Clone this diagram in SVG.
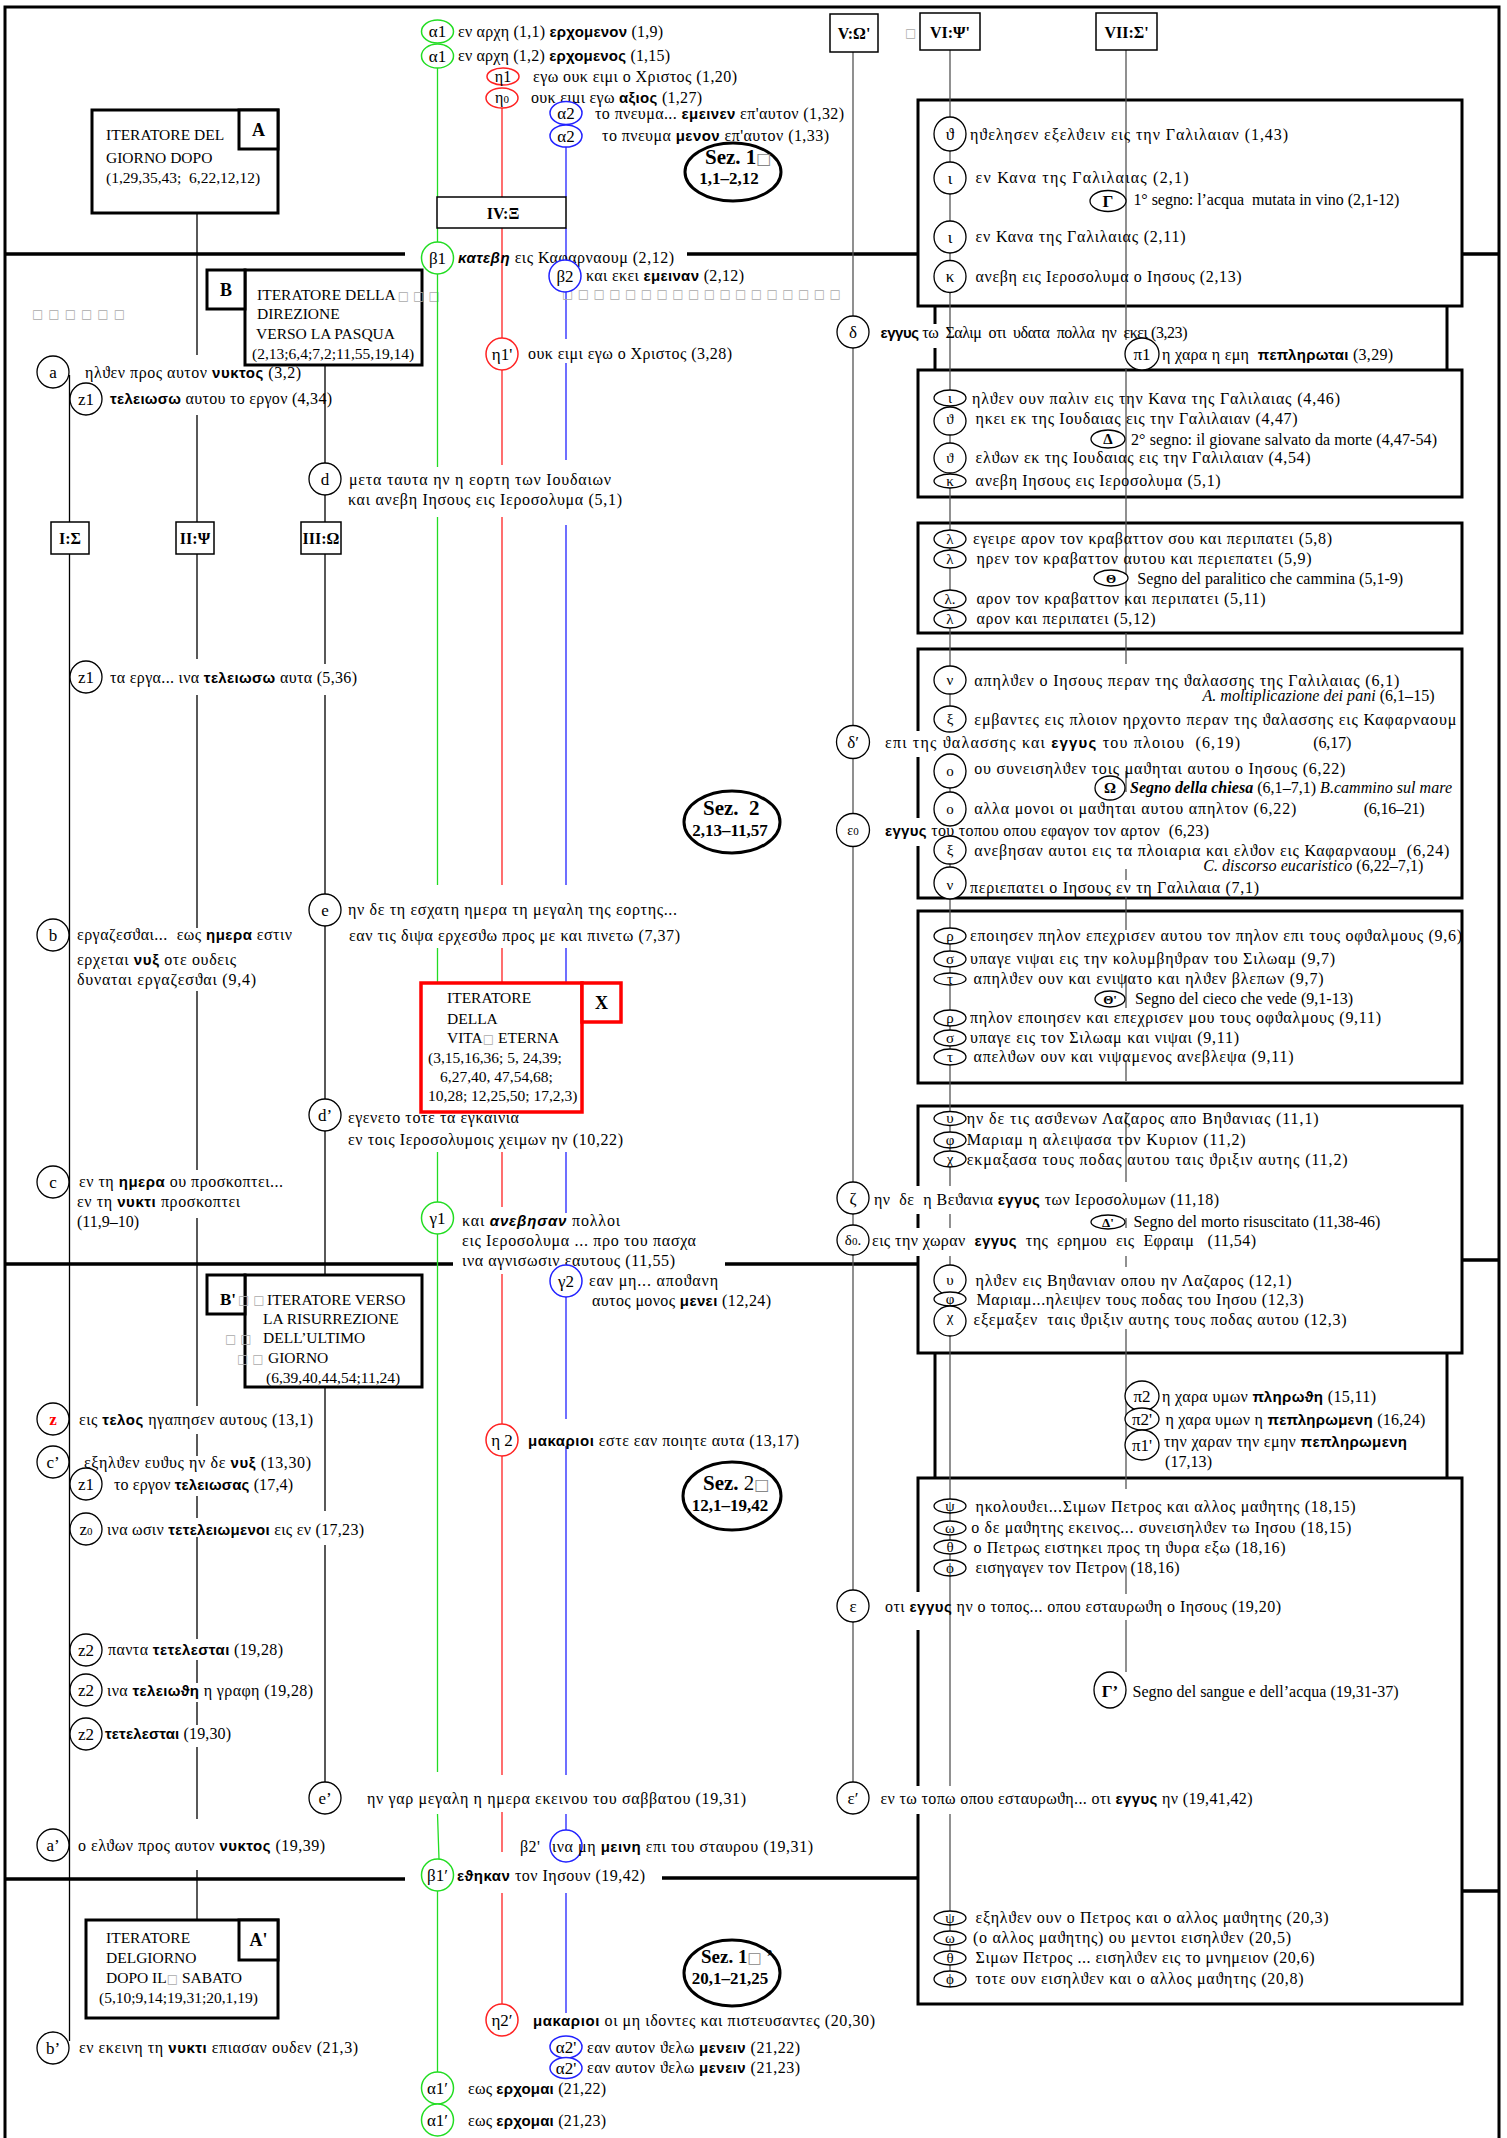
<svg xmlns="http://www.w3.org/2000/svg" width="1507" height="2138" viewBox="0 0 1507 2138">
<style>
text{font-family:"Liberation Serif","Times New Roman",serif;font-size:16px;fill:#000}
.g{letter-spacing:0.4px}
.r{font-size:16px}
.b{font-family:"Liberation Sans",Arial,sans-serif;font-weight:bold;font-size:15px}
.bi{font-family:"Liberation Sans",Arial,sans-serif;font-weight:bold;font-style:italic;font-size:15px}
.i{font-style:italic}
.ib{font-style:italic;font-weight:bold}
.lab{font-size:17px;text-anchor:middle}
.ls{font-size:15px;text-anchor:middle}
.sub{font-size:11px}
.hdr{font-weight:bold;font-size:16px;text-anchor:middle}
.it{font-size:16px}
.bx{font-size:15.5px}
.tf{fill:#aaa;font-family:"DejaVu Sans",sans-serif;font-size:12px}
.sz{font-weight:bold;font-size:21px}
.szn{font-weight:bold;font-size:17px;text-anchor:middle}
.frame{fill:none;stroke:#000;stroke-width:3}
.sec{stroke:#000;stroke-width:3.5;fill:none}
.box{fill:#fff;stroke:#000;stroke-width:3}
.tbox{fill:#fff;stroke:#000;stroke-width:1.5}
.xbox{fill:#fff;stroke:#f00;stroke-width:3.5}
.ln{stroke:#000;stroke-width:1.3;fill:none}
.vl{stroke:#555;stroke-width:1.3;fill:none}
.gl{stroke:#2d2;stroke-width:1.3;fill:none}
.rl{stroke:#f22;stroke-width:1.3;fill:none}
.bl{stroke:#22f;stroke-width:1.3;fill:none}
.cn{stroke:#000;stroke-width:3;fill:none}
.c{fill:#fff;stroke:#000;stroke-width:1.3}
.cg{fill:#fff;stroke:#2d2;stroke-width:1.5}
.cr{fill:#fff;stroke:#f22;stroke-width:1.5}
.cb{fill:#fff;stroke:#22f;stroke-width:1.5}
.sez{fill:#fff;stroke:#000;stroke-width:3}
.wb{fill:#fff}
</style>
<rect width="1507" height="2138" fill="#fff"/>
<g id="frame">
<path class="frame" d="M5 2138V7H1499V2138"/>
<path class="sec" d="M5 254H405M687 254H918M1462 254H1499M5 1264H453M725 1264H918M1462 1260H1499M5 1879H405M662 1878H918M1462 1891H1499"/>
</g>
<g id="right-frames">
<rect class="box" x="918" y="100" width="544" height="206"/>
<path class="cn" d="M935 306V370M1447 306V370M935 1353V1478M1447 1353V1478"/>
<rect class="box" x="918" y="370" width="544" height="127"/>
<rect class="box" x="918" y="523" width="544" height="110"/>
<rect class="box" x="918" y="649" width="544" height="249"/>
<rect class="box" x="918" y="911" width="544" height="172"/>
<rect class="box" x="918" y="1106" width="544" height="247"/>
<rect class="box" x="918" y="1478" width="544" height="526"/>
</g>
<g id="left-boxes">
<g id="box-A"><rect class="box" x="92" y="110" width="186" height="103"/><rect class="box" x="239" y="110" width="39" height="39"/><text class="hdr" x="258.5" y="136" style="font-size:18px">A</text><text class="bx" x="106" y="140">ITERATORE DEL</text><text class="bx" x="106" y="163">GIORNO DOPO</text><text class="bx" x="106" y="183" xml:space="preserve">(1,29,35,43;  6,22,12,12)</text></g>
<g id="box-B"><rect class="box" x="245" y="270" width="177" height="95"/><rect class="box" x="207" y="270" width="38" height="39"/><text class="hdr" x="226" y="296" style="font-size:18px">B</text><text class="bx" x="257" y="300">ITERATORE DELLA<tspan class="tf" dx="2" style="letter-spacing:4px">□□□</tspan></text><text class="bx" x="257" y="319">DIREZIONE</text><text class="bx" x="256" y="339">VERSO LA PASQUA</text><text class="bx" x="252" y="359">(2,13;6,4;7,2;11,55,19,14)</text></g>
<g id="box-Bp"><rect class="box" x="245" y="1275" width="177" height="112"/><rect class="box" x="207" y="1275" width="38" height="39"/><text class="hdr" x="220" y="1305" style="font-size:17px;text-anchor:start">B'</text><text class="tf" x="238" y="1304" style="letter-spacing:4px">□□</text><text class="bx" x="267" y="1305">ITERATORE VERSO</text><text class="bx" x="263" y="1324">LA RISURREZIONE</text><text class="tf" x="225" y="1343" style="letter-spacing:4px">□□</text><text class="bx" x="263" y="1343">DELL’ULTIMO</text><text class="tf" x="237" y="1363" style="letter-spacing:4px">□□</text><text class="bx" x="268" y="1363">GIORNO</text><text class="bx" x="266" y="1383">(6,39,40,44,54;11,24)</text></g>
<g id="box-Ap"><rect class="box" x="86" y="1920" width="192" height="98"/><rect class="box" x="239" y="1920" width="39" height="40"/><text class="hdr" x="258.5" y="1946" style="font-size:18px">A'</text><text class="bx" x="106" y="1943">ITERATORE</text><text class="bx" x="106" y="1963">DELGIORNO</text><text class="bx" x="106" y="1983">DOPO IL<tspan class="tf">□</tspan> SABATO</text><text class="bx" x="99" y="2003">(5,10;9,14;19,31;20,1,19)</text></g>
</g>
<g id="connectors">
<path class="ln" d="M69.5 375V522M69.5 554V2041"/>
<path class="ln" d="M197 213V355M197 415V522M197 554V659M197 695V928M197 991V1170M197 1218V1406M197 1434V1456M197 1496V1518M197 1537V1639M197 1660V1683M197 1702V1725M197 1747V1819M197 1870V1920"/>
<path class="ln" d="M325 365V463M325 495V522M325 554V664M325 695V894M325 926V1099M325 1131V1275M325 1387V1511M325 1545V1782"/>
<path class="gl" d="M437.5 68V197M437.5 228V242M437.5 274V467M437.5 517V885M437.5 948V983M437.5 1152V1202M437.5 1234V1772M437.5 1814L439 1859M437.5 1891V2072"/>
<path class="rl" d="M502 107V197M502 228V338M502 370V465M502 517V885M502 948V983M502 1152V1207M502 1274V1424M502 1456V1775M502 1812V1852M502 1893V2004"/>
<path class="bl" d="M566 147V197M566 228V260M566 292V339M566 363V460M566 525V885M566 948V983M566 1152V1213M566 1297V1419M566 1446V1775M566 1814V1830M566 1893V2013"/>
<path class="vl" d="M853 52V316M853 348V725M853 759V813M853 847V1182M853 1214V1225M853 1255V1590M853 1622V1782"/>
<path class="vl" d="M950 50V1971"/>
<path class="vl" d="M1126 50V340M1126 368V606M1126 633V664M1126 771V792M1126 869V880M1126 897V930M1126 975V1008M1126 1060V1081M1126 1112V1182M1126 1218V1267M1126 1329V1489M1126 1566V1594M1126 1620V1672"/>
</g>
<g id="text-backgrounds">
<rect class="wb" x="872" y="324" width="70" height="24"/>
<rect class="wb" x="872" y="731" width="372" height="26"/>
<rect class="wb" x="872" y="818" width="340" height="28"/>
<rect class="wb" x="872" y="1186" width="350" height="28"/>
<rect class="wb" x="872" y="1228" width="386" height="28"/>
<rect class="wb" x="872" y="1592" width="68" height="38"/>
<rect class="wb" x="872" y="1786" width="384" height="28"/>
</g>
<g id="box-X"><rect class="xbox" x="421" y="983" width="161" height="129"/><rect class="xbox" x="582" y="983" width="39" height="39"/><text class="hdr" x="601.5" y="1009" style="font-size:18px">X</text><text class="bx" x="447" y="1003">ITERATORE</text><text class="bx" x="447" y="1024">DELLA</text><text class="bx" x="447" y="1043">VITA<tspan class="tf">□</tspan> ETERNA</text><text class="bx" x="428" y="1063">(3,15,16,36; 5, 24,39;</text><text class="bx" x="440" y="1082">6,27,40, 47,54,68;</text><text class="bx" x="428" y="1101">10,28; 12,25,50; 17,2,3)</text></g>
<g id="box-IV"><rect class="tbox" x="437" y="197" width="129" height="31"/><text class="hdr" x="503" y="219">IV:Ξ</text></g>
<g id="headers">
<g id="h-I"><rect class="tbox" x="51" y="522" width="38" height="32"/><text class="hdr" x="70" y="544">I:Σ</text></g>
<g id="h-II"><rect class="tbox" x="176" y="522" width="38" height="32"/><text class="hdr" x="195" y="544">II:Ψ</text></g>
<g id="h-III"><rect class="tbox" x="301" y="522" width="40" height="32"/><text class="hdr" x="321" y="544">III:Ω</text></g>
<g id="h-V"><rect class="tbox" x="830" y="14" width="48" height="38"/><text class="hdr" x="854" y="39">V:Ω'</text></g>
<g id="h-VI"><rect class="tbox" x="920" y="13" width="60" height="37"/><text class="hdr" x="950" y="38">VI:Ψ'</text><text class="tf" x="905" y="37">□</text></g>
<g id="h-VII"><rect class="tbox" x="1096" y="13" width="61" height="37"/><text class="hdr" x="1126.5" y="38">VII:Σ'</text></g>
</g>
<g id="tofu">
<text class="tf" x="32" y="318" style="letter-spacing:5px">□□□□□□</text>
<text class="tf" x="562" y="298" style="letter-spacing:4.4px">□□□□□□□□□□□□□□□□□□</text>
</g>
<g id="sections">
<g id="sez1"><ellipse class="sez" cx="733" cy="172" rx="48" ry="29"/><text class="sz" x="705" y="164">Sez. 1<tspan class="tf" style="fill:#888;font-size:16px">□</tspan></text><text class="szn" x="729" y="184">1,1–2,12</text></g>
<g id="sez2"><ellipse class="sez" cx="732" cy="822" rx="48" ry="31"/><text class="sz" x="703" y="815" xml:space="preserve">Sez.  2</text><text class="szn" x="730" y="836">2,13–11,57</text></g>
<g id="sez2b"><ellipse class="sez" cx="732" cy="1496" rx="49" ry="34"/><text class="sz" x="703" y="1490">Sez. <tspan style="font-weight:normal">2</tspan><tspan class="tf" style="fill:#888;font-size:16px">□</tspan></text><text class="szn" x="730" y="1511">12,1–19,42</text></g>
<g id="sez1b"><ellipse class="sez" cx="732" cy="1973" rx="48" ry="33"/><text class="sz" x="701" y="1963" style="font-size:19px">Sez. 1<tspan class="tf" style="fill:#888;font-size:15px">□</tspan> ’</text><text class="szn" x="730" y="1984">20,1–21,25</text></g>
</g>
<g id="nodes-top">
<g id="n-a1-1"><ellipse class="cg" cx="437.5" cy="31.5" rx="16" ry="11.5"/><text class="lab" x="437.5" y="37">α1</text><text x="458" y="37" textLength="205">εν αρχη (1,1) <tspan class="b">ερχομενον</tspan> (1,9)</text></g>
<g id="n-a1-2"><ellipse class="cg" cx="437.5" cy="56" rx="16" ry="12"/><text class="lab" x="437.5" y="61.5">α1</text><text x="458" y="61" textLength="212">εν αρχη (1,2) <tspan class="b">ερχομενος</tspan> (1,15)</text></g>
<g id="n-h1"><ellipse class="cr" cx="503" cy="76.5" rx="16" ry="8.5"/><text class="lab" x="503" y="82" style="font-size:16px">η1</text><text x="533" y="82" textLength="204">εγω ουκ ειμι ο Χριστος (1,20)</text></g>
<g id="n-h0"><ellipse class="cr" cx="502" cy="98" rx="16" ry="10"/><text class="lab" x="502" y="103" style="font-size:16px">η<tspan class="sub">0</tspan></text><text x="531" y="103" textLength="171">ουκ ειμι εγω <tspan class="b">αξιος</tspan> (1,27)</text></g>
<g id="n-a2-1"><ellipse class="cb" cx="566" cy="113" rx="16" ry="11.5"/><text class="lab" x="566" y="118.5">α2</text><text x="595" y="119" textLength="249">το πνευμα... <tspan class="b">εμεινεν</tspan> επ'αυτον (1,32)</text></g>
<g id="n-a2-2"><ellipse class="cb" cx="566" cy="136" rx="16" ry="11"/><text class="lab" x="566" y="141.5">α2</text><text x="602" y="141" textLength="227">το πνευμα <tspan class="b">μενον</tspan> επ'αυτον (1,33)</text></g>
<g id="n-b1"><circle class="cg" cx="437.5" cy="258" r="16"/><text class="lab" x="437.5" y="264">β1</text><text x="458" y="263" textLength="216"><tspan class="bi">κατεβη</tspan> εις Καφαρναουμ (2,12)</text></g>
<g id="n-b2"><circle class="cb" cx="565" cy="276" r="16"/><text class="lab" x="565" y="282">β2</text><text x="586" y="281" textLength="158">και εκει <tspan class="b">εμειναν</tspan> (2,12)</text></g>
<g id="n-h1p"><circle class="cr" cx="502" cy="354" r="16"/><text class="lab" x="502" y="360">η1'</text><text x="528" y="359" textLength="204">ουκ ειμι εγω ο Χριστος (3,28)</text></g>
</g>
<g id="nodes-left">
<g id="n-a"><circle class="c" cx="53" cy="372" r="16"/><text class="lab" x="53" y="378">a</text><text x="85" y="378" textLength="216">ηλϑεν προς αυτον <tspan class="b">νυκτος</tspan> (3,2)</text></g>
<g id="n-z1a"><circle class="c" cx="86" cy="399" r="16"/><text class="lab" x="86" y="405">z1</text><text x="110" y="404" textLength="222"><tspan class="b">τελειωσω</tspan> αυτου το εργον (4,34)</text></g>
<g id="n-d"><circle class="c" cx="325" cy="479" r="16"/><text class="lab" x="325" y="485">d</text><text x="349" y="485" textLength="262">μετα ταυτα ην η εορτη των Ιουδαιων</text><text x="348" y="505" textLength="274">και ανεβη Ιησους εις Ιεροσολυμα (5,1)</text></g>
<g id="n-z1b"><circle class="c" cx="86" cy="677" r="16"/><text class="lab" x="86" y="683">z1</text><text x="110" y="683" textLength="247">τα εργα... ινα <tspan class="b">τελειωσω</tspan> αυτα (5,36)</text></g>
<g id="n-e"><circle class="c" cx="325" cy="910" r="16"/><text class="lab" x="325" y="916">e</text><text x="348" y="915" textLength="329">ην δε τη εσχατη ημερα τη μεγαλη της εορτης...</text><text x="349" y="941" textLength="331">εαν τις διψα ερχεσϑω προς με και πινετω (7,37)</text></g>
<g id="n-b"><circle class="c" cx="53" cy="935" r="16"/><text class="lab" x="53" y="941">b</text><text x="77" y="940" xml:space="preserve" textLength="215">εργαζεσϑαι...  εως <tspan class="b">ημερα</tspan> εστιν</text><text x="77" y="965" textLength="159">ερχεται <tspan class="b">νυξ</tspan> οτε ουδεις</text><text x="77" y="985" textLength="179">δυναται εργαζεσϑαι (9,4)</text></g>
<g id="n-dp"><circle class="c" cx="325" cy="1115" r="16"/><text class="lab" x="325" y="1121">d’</text><text x="348" y="1123" textLength="171">εγενετο τοτε τα εγκαινια</text><text x="348" y="1145" textLength="275">εν τοις Ιεροσολυμοις χειμων ην (10,22)</text></g>
<g id="n-c"><circle class="c" cx="53" cy="1182" r="16"/><text class="lab" x="53" y="1188">c</text><text x="79" y="1187" textLength="204">εν τη <tspan class="b">ημερα</tspan> ου προσκοπτει...</text><text x="77" y="1207" textLength="163">εν τη <tspan class="b">νυκτι</tspan> προσκοπτει</text><text x="77" y="1227" textLength="62">(11,9–10)</text></g>
<g id="n-g1"><circle class="cg" cx="437.5" cy="1218" r="16"/><text class="lab" x="437.5" y="1224">γ1</text><text x="462" y="1226" textLength="158">και <tspan class="bi">ανεβησαν</tspan> πολλοι</text><text x="462" y="1246" textLength="234">εις Ιεροσολυμα ... προ του πασχα</text><text x="462" y="1266" textLength="213">ινα αγνισωσιν εαυτους (11,55)</text></g>
<g id="n-g2"><circle class="cb" cx="566" cy="1281" r="16"/><text class="lab" x="566" y="1287">γ2</text><text x="589" y="1286" textLength="129">εαν μη... αποϑανη</text><text x="592" y="1306" textLength="179">αυτος μονος <tspan class="b">μενει</tspan> (12,24)</text></g>
<g id="n-z"><circle class="c" cx="53" cy="1419" r="16"/><text class="lab" x="53" y="1425" style="fill:#f00;font-weight:bold">z</text><text x="79" y="1425" textLength="234">εις <tspan class="b">τελος</tspan> ηγαπησεν αυτους (13,1)</text></g>
<g id="n-h2"><circle class="cr" cx="502" cy="1440" r="16"/><text class="lab" x="502" y="1446" xml:space="preserve">η 2</text><text x="528" y="1446" textLength="271"><tspan class="b">μακαριοι</tspan> εστε εαν ποιητε αυτα (13,17)</text></g>
<g id="n-cp"><circle class="c" cx="53" cy="1462" r="16"/><text class="lab" x="53" y="1468">c’</text><text x="84" y="1468" textLength="227">εξηλϑεν ευϑυς ην δε <tspan class="b">νυξ</tspan> (13,30)</text></g>
<g id="n-z1c"><circle class="c" cx="86" cy="1484" r="16"/><text class="lab" x="86" y="1490">z1</text><text x="114" y="1490" textLength="179">το εργον <tspan class="b">τελειωσας</tspan> (17,4)</text></g>
<g id="n-z0"><circle class="c" cx="86" cy="1529" r="16"/><text class="lab" x="86" y="1535">z<tspan class="sub">0</tspan></text><text x="107" y="1535" textLength="257">ινα ωσιν <tspan class="b">τετελειωμενοι</tspan> εις εν (17,23)</text></g>
<g id="n-z2a"><circle class="c" cx="86" cy="1650" r="16"/><text class="lab" x="86" y="1656">z2</text><text x="108" y="1655" textLength="175">παντα <tspan class="b">τετελεσται</tspan> (19,28)</text></g>
<g id="n-z2b"><circle class="c" cx="86" cy="1690" r="16"/><text class="lab" x="86" y="1696">z2</text><text x="107" y="1696" textLength="206">ινα <tspan class="b">τελειωϑη</tspan> η γραφη (19,28)</text></g>
<g id="n-z2c"><circle class="c" cx="86" cy="1734" r="16"/><text class="lab" x="86" y="1740">z2</text><text x="105" y="1739" textLength="126"><tspan class="b">τετελεσται</tspan> (19,30)</text></g>
<g id="n-ep"><circle class="c" cx="325" cy="1798" r="16"/><text class="lab" x="325" y="1804">e’</text><text x="367" y="1804" textLength="379">ην γαρ μεγαλη η ημερα εκεινου του σαββατου (19,31)</text></g>
<g id="n-ap"><circle class="c" cx="53" cy="1845" r="16"/><text class="lab" x="53" y="1851">a’</text><text x="78" y="1851" textLength="247">ο ελϑων προς αυτον <tspan class="b">νυκτος</tspan> (19,39)</text></g>
<g id="n-b2p"><circle class="cb" cx="566" cy="1846" r="16"/><text class="g" x="520" y="1852">β2'</text><text x="552" y="1852" textLength="261">ινα μη <tspan class="b">μεινη</tspan> επι του σταυρου (19,31)</text></g>
<g id="n-b1p"><circle class="cg" cx="437.5" cy="1875" r="16"/><text class="lab" x="437.5" y="1881">β1′</text><text x="457" y="1881" textLength="188"><tspan class="b">εϑηκαν</tspan> τον Ιησουν (19,42)</text></g>
<g id="n-h2p"><circle class="cr" cx="502" cy="2020" r="16"/><text class="lab" x="502" y="2026">η2′</text><text x="533" y="2026" textLength="342"><tspan class="b">μακαριοι</tspan> οι μη ιδοντες και πιστευσαντες (20,30)</text></g>
<g id="n-bp"><circle class="c" cx="53" cy="2048" r="16"/><text class="lab" x="53" y="2054">b’</text><text x="79" y="2053" textLength="279">εν εκεινη τη <tspan class="b">νυκτι</tspan> επιασαν ουδεν (21,3)</text></g>
<g id="n-a2p-1"><ellipse class="cb" cx="566" cy="2047" rx="16" ry="11"/><text class="lab" x="566" y="2053">α2'</text><text x="587" y="2053" textLength="213">εαν αυτον ϑελω <tspan class="b">μενειν</tspan> (21,22)</text></g>
<g id="n-a2p-2"><ellipse class="cb" cx="566" cy="2068" rx="16" ry="10.5"/><text class="lab" x="566" y="2074">α2'</text><text x="587" y="2073" textLength="213">εαν αυτον ϑελω <tspan class="b">μενειν</tspan> (21,23)</text></g>
<g id="n-a1p-1"><circle class="cg" cx="437.5" cy="2088" r="16"/><text class="lab" x="437.5" y="2094">α1′</text><text x="468" y="2094" textLength="138">εως <tspan class="b">ερχομαι</tspan> (21,22)</text></g>
<g id="n-a1p-2"><circle class="cg" cx="437.5" cy="2120" r="16"/><text class="lab" x="437.5" y="2126">α1′</text><text x="468" y="2126" textLength="138">εως <tspan class="b">ερχομαι</tspan> (21,23)</text></g>
</g>
<g id="nodes-V">
<g id="n-delta"><circle class="c" cx="853" cy="332" r="16"/><text class="lab" x="853" y="338">δ</text><text class="r" x="880.5" y="338" xml:space="preserve" textLength="307"><tspan class="b">εγγυς</tspan> τω  Σαλιμ  οτι  υδατα  πολλα  ην  εκει (3,23)</text></g>
<g id="n-pi1"><ellipse class="c" cx="1142" cy="354" rx="17" ry="16"/><text class="lab" x="1142" y="360">π1</text><text class="r" x="1162" y="360" xml:space="preserve" textLength="231">η χαρα η εμη  <tspan class="b">πεπληρωται</tspan> (3,29)</text></g>
<g id="n-deltap"><circle class="c" cx="853" cy="742" r="16.5"/><text class="lab" x="853" y="748">δ′</text><text class="r" x="885" y="748" xml:space="preserve" textLength="355">επι της ϑαλασσης και <tspan class="b">εγγυς</tspan> του πλοιου  (6,19)</text></g>
<g id="n-eps0"><circle class="c" cx="853" cy="830" r="16.5"/><text class="lab" x="853" y="835" style="font-size:14px">ε<tspan class="sub">0</tspan></text><text class="r" x="885" y="836" xml:space="preserve" textLength="324"><tspan class="b">εγγυς</tspan> του τοπου οπου εφαγον τον αρτον  (6,23)</text></g>
<g id="n-zeta"><circle class="c" cx="853" cy="1198" r="16"/><text class="lab" x="853" y="1204">ζ</text><text class="r" x="874" y="1205" xml:space="preserve" textLength="345">ην  δε  η Βεϑανια <tspan class="b">εγγυς</tspan> των Ιεροσολυμων (11,18)</text></g>
<g id="n-delta0"><ellipse class="c" cx="853" cy="1240" rx="16" ry="15"/><text class="lab" x="853" y="1245" style="font-size:15px">δ<tspan class="sub">0</tspan>.</text><text class="r" x="872" y="1246" xml:space="preserve" textLength="384">εις την χωραν  <tspan class="b">εγγυς</tspan>  της  ερημου  εις  Εφραιμ   (11,54)</text></g>
<g id="n-eps"><circle class="c" cx="853" cy="1606" r="16"/><text class="lab" x="853" y="1612">ε</text><text class="r" x="885" y="1612" textLength="396">οτι <tspan class="b">εγγυς</tspan> ην ο τοπος... οπου εσταυρωϑη ο Ιησους (19,20)</text></g>
<g id="n-epsp"><circle class="c" cx="853" cy="1798" r="16"/><text class="lab" x="853" y="1804">ε′</text><text class="r" x="880.5" y="1804" textLength="372">εν τω τοπω οπου εσταυρωϑη... οτι <tspan class="b">εγγυς</tspan> ην (19,41,42)</text></g>
</g>
<g id="nodes-R1">
<g id="n-r1a"><ellipse class="c" cx="950" cy="134" rx="16" ry="17"/><text class="lab" x="950" y="140">ϑ</text><text class="r" x="970" y="140" textLength="318">ηϑελησεν εξελϑειν εις την Γαλιλαιαν (1,43)</text></g>
<g id="n-r1b"><ellipse class="c" cx="950" cy="178" rx="16" ry="16"/><text class="lab" x="950" y="184">ι</text><text class="r" x="975.6" y="183" textLength="213">εν Κανα της Γαλιλαιας (2,1)</text></g>
<g id="n-Gamma"><ellipse class="c" cx="1108" cy="201" rx="18" ry="10.5"/><text class="lab" x="1108" y="207" style="font-weight:bold">Γ</text><text class="it" x="1133.4" y="205" xml:space="preserve" textLength="266">1° segno: l’acqua  mutata in vino (2,1-12)</text></g>
<g id="n-r1c"><ellipse class="c" cx="950" cy="237" rx="16" ry="16"/><text class="lab" x="950" y="243">ι</text><text class="r" x="975.6" y="242" textLength="210">εν Κανα της Γαλιλαιας (2,11)</text></g>
<g id="n-r1d"><ellipse class="c" cx="950" cy="276.5" rx="16" ry="16"/><text class="lab" x="950" y="282">κ</text><text class="r" x="975.6" y="282" textLength="266">ανεβη εις Ιεροσολυμα ο Ιησους (2,13)</text></g>
</g>
<g id="nodes-R2">
<g id="n-r2a"><ellipse class="c" cx="950" cy="398" rx="16" ry="8"/><text class="ls" x="950" y="403">ι</text><text class="r" x="972" y="404" textLength="368">ηλϑεν ουν παλιν εις την Κανα της Γαλιλαιας (4,46)</text></g>
<g id="n-r2b"><ellipse class="c" cx="950" cy="421" rx="16" ry="14"/><text class="ls" x="950" y="424">ϑ</text><text class="r" x="975.6" y="424" textLength="322">ηκει εκ της Ιουδαιας εις την Γαλιλαιαν (4,47)</text></g>
<g id="n-Delta"><ellipse class="c" cx="1108" cy="439" rx="17" ry="9"/><text class="ls" x="1108" y="444" style="font-weight:bold">Δ</text><text class="it" x="1131" y="445" textLength="306">2° segno: il giovane salvato da morte (4,47-54)</text></g>
<g id="n-r2c"><ellipse class="c" cx="950" cy="458" rx="16" ry="15"/><text class="ls" x="950" y="463">ϑ</text><text class="r" x="975.6" y="463" textLength="335">ελϑων εκ της Ιουδαιας εις την Γαλιλαιαν (4,54)</text></g>
<g id="n-r2d"><ellipse class="c" cx="950" cy="481" rx="16" ry="7"/><text class="ls" x="950" y="486">κ</text><text class="r" x="975.6" y="486" textLength="245">ανεβη Ιησους εις Ιεροσολυμα (5,1)</text></g>
</g>
<g id="nodes-R3">
<g id="n-r3a"><ellipse class="c" cx="950" cy="539" rx="16" ry="9"/><text class="ls" x="950" y="544">λ</text><text class="r" x="973" y="544" textLength="359">εγειρε αρον τον κραβαττον σου και περιπατει (5,8)</text></g>
<g id="n-r3b"><ellipse class="c" cx="950" cy="559" rx="16" ry="9"/><text class="ls" x="950" y="564">λ</text><text class="r" x="976.5" y="564" textLength="335">ηρεν τον κραβαττον αυτου και περιεπατει (5,9)</text></g>
<g id="n-Theta"><ellipse class="c" cx="1111" cy="578" rx="17" ry="8"/><text class="ls" x="1111" y="583" style="font-weight:bold;font-size:13px">Θ</text><text class="it" x="1137.2" y="584" textLength="266">Segno del paralitico che cammina (5,1-9)</text></g>
<g id="n-r3c"><ellipse class="c" cx="950" cy="599" rx="16" ry="9"/><text class="ls" x="950" y="604">λ.</text><text class="r" x="976.5" y="604" textLength="289">αρον τον κραβαττον και περιπατει (5,11)</text></g>
<g id="n-r3d"><ellipse class="c" cx="950" cy="619" rx="16" ry="9"/><text class="ls" x="950" y="624">λ</text><text class="r" x="976.5" y="624" textLength="179">αρον και περιπατει (5,12)</text></g>
</g>
<g id="nodes-R4">
<g id="n-r4a"><ellipse class="c" cx="950" cy="680" rx="16" ry="14"/><text class="ls" x="950" y="685">ν</text><text class="r" x="974.3" y="686" textLength="425">απηλϑεν ο Ιησους περαν της ϑαλασσης της Γαλιλαιας (6,1)</text></g>
<text class="it" x="1202.5" y="701" textLength="232"><tspan class="i">A. moltiplicazione dei pani</tspan> (6,1–15)</text>
<g id="n-r4b"><ellipse class="c" cx="950" cy="719" rx="16" ry="13"/><text class="ls" x="950" y="724">ξ</text><text class="r" x="974.3" y="725" textLength="482">εμβαντες εις πλοιον ηρχοντο περαν της ϑαλασσης εις Καφαρναουμ</text><text class="r" x="1313.3" y="748" textLength="38">(6,17)</text></g>
<g id="n-r4c"><ellipse class="c" cx="950" cy="771" rx="16" ry="17"/><text class="ls" x="950" y="776">ο</text><text class="r" x="974.3" y="774" textLength="371">ου συνεισηλϑεν τοις μαϑηται αυτου ο Ιησους (6,22)</text></g>
<g id="n-Omega"><ellipse class="c" cx="1110" cy="788" rx="15" ry="12"/><text class="ls" x="1110" y="793" style="font-weight:bold">Ω</text><text class="it" x="1130" y="793" textLength="322"><tspan class="ib">Segno della chiesa</tspan> (6,1–7,1) <tspan class="i">B.cammino sul mare</tspan></text></g>
<g id="n-r4d"><ellipse class="c" cx="950" cy="809" rx="16" ry="17"/><text class="ls" x="950" y="814">ο</text><text class="r" x="974.3" y="814" textLength="322">αλλα μονοι οι μαϑηται αυτου απηλτον (6,22)</text><text class="r" x="1363.7" y="814" textLength="61">(6,16–21)</text></g>
<g id="n-r4e"><ellipse class="c" cx="950" cy="850" rx="16" ry="14"/><text class="ls" x="950" y="855">ξ</text><text class="r" x="974.3" y="856" xml:space="preserve" textLength="475">ανεβησαν αυτοι εις τα πλοιαρια και ελϑον εις Καφαρναουμ  (6,24)</text></g>
<text class="it" x="1203.3" y="871" textLength="220"><tspan class="i">C. discorso eucaristico</tspan> (6,22–7,1)</text>
<g id="n-r4f"><ellipse class="c" cx="950" cy="883" rx="16" ry="16"/><text class="ls" x="950" y="890">ν</text><text class="r" x="970" y="893" textLength="289">περιεπατει ο Ιησους εν τη Γαλιλαια (7,1)</text></g>
</g>
<g id="nodes-R5">
<g id="n-r5a"><ellipse class="c" cx="950" cy="936" rx="16" ry="8"/><text class="ls" x="950" y="941">ρ</text><text class="r" x="970" y="941" textLength="492">εποιησεν πηλον επεχρισεν αυτου τον πηλον επι τους οφϑαλμους (9,6)</text></g>
<g id="n-r5b"><ellipse class="c" cx="950" cy="959" rx="16" ry="8"/><text class="ls" x="950" y="964">σ</text><text class="r" x="970" y="964" textLength="365">υπαγε νιψαι εις την κολυμβηϑραν του Σιλωαμ (9,7)</text></g>
<g id="n-r5c"><ellipse class="c" cx="950" cy="979" rx="16" ry="6"/><text class="ls" x="950" y="984">τ</text><text class="r" x="973.5" y="984" textLength="350">απηλϑεν ουν και ενιψατο και ηλϑεν βλεπων (9,7)</text></g>
<g id="n-Thetap"><ellipse class="c" cx="1110" cy="999" rx="15" ry="8"/><text class="ls" x="1110" y="1004" style="font-weight:bold;font-size:13px">Θ'</text><text class="it" x="1135" y="1004" textLength="218">Segno del cieco che vede (9,1-13)</text></g>
<g id="n-r5d"><ellipse class="c" cx="950" cy="1018" rx="16" ry="8"/><text class="ls" x="950" y="1023">ρ</text><text class="r" x="970" y="1023" textLength="411">πηλον εποιησεν και επεχρισεν μου τους οφϑαλμους (9,11)</text></g>
<g id="n-r5e"><ellipse class="c" cx="950" cy="1038" rx="16" ry="8"/><text class="ls" x="950" y="1043">σ</text><text class="r" x="970" y="1043" textLength="269">υπαγε εις τον Σιλωαμ και νιψαι (9,11)</text></g>
<g id="n-r5f"><ellipse class="c" cx="950" cy="1057" rx="16" ry="8"/><text class="ls" x="950" y="1062">τ</text><text class="r" x="973.5" y="1062" textLength="320">απελϑων ουν και νιψαμενος ανεβλεψα (9,11)</text></g>
</g>
<g id="nodes-R6">
<g id="n-r6a"><ellipse class="c" cx="950" cy="1118.5" rx="16" ry="7"/><text class="ls" x="950" y="1123">υ</text><text class="r" x="966.7" y="1124" textLength="352">ην δε τις ασϑενων Λαζαρος απο Βηϑανιας (11,1)</text></g>
<g id="n-r6b"><ellipse class="c" cx="950" cy="1140" rx="16" ry="8"/><text class="ls" x="950" y="1145">φ</text><text class="r" x="966.7" y="1145" textLength="279">Μαριαμ η αλειψασα τον Κυριον (11,2)</text></g>
<g id="n-r6c"><ellipse class="c" cx="950" cy="1159" rx="16" ry="8"/><text class="ls" x="950" y="1164">χ</text><text class="r" x="966.7" y="1165" textLength="381">εκμαξασα τους ποδας αυτου ταις ϑριξιν αυτης (11,2)</text></g>
<g id="n-Deltap"><ellipse class="c" cx="1108" cy="1222" rx="17" ry="7"/><text class="ls" x="1108" y="1227" style="font-weight:bold;font-size:13px">Δ'</text><text class="it" x="1133.4" y="1227" textLength="247">Segno del morto risuscitato (11,38-46)</text></g>
<g id="n-r6d"><ellipse class="c" cx="950" cy="1280" rx="16" ry="15"/><text class="ls" x="950" y="1285">υ</text><text class="r" x="975.6" y="1286" textLength="316">ηλϑεν εις Βηϑανιαν οπου ην Λαζαρος (12,1)</text></g>
<g id="n-r6e"><ellipse class="c" cx="950" cy="1299" rx="16" ry="7"/><text class="ls" x="950" y="1304">φ</text><text class="r" x="976.5" y="1305" textLength="327">Μαριαμ...ηλειψεν τους ποδας του Ιησου (12,3)</text></g>
<g id="n-r6f"><ellipse class="c" cx="950" cy="1321" rx="16" ry="15"/><text class="ls" x="950" y="1322">χ</text><text class="r" x="973.5" y="1325" xml:space="preserve" textLength="373">εξεμαξεν  ταις ϑριξιν αυτης τους ποδας αυτου (12,3)</text></g>
</g>
<g id="nodes-pi">
<g id="n-pi2"><ellipse class="c" cx="1142" cy="1396" rx="17" ry="15"/><text class="lab" x="1142" y="1402">π2</text><text class="r" x="1162" y="1402" textLength="214">η χαρα υμων <tspan class="b">πληρωϑη</tspan> (15,11)</text></g>
<g id="n-pi2p"><ellipse class="c" cx="1142" cy="1419" rx="17" ry="11"/><text class="lab" x="1142" y="1425">π2'</text><text class="r" x="1165.4" y="1425" textLength="260">η χαρα υμων η <tspan class="b">πεπληρωμενη</tspan> (16,24)</text></g>
<g id="n-pi1p"><ellipse class="c" cx="1142" cy="1445" rx="17" ry="15"/><text class="lab" x="1142" y="1451">π1'</text><text class="r" x="1164" y="1447" textLength="243">την χαραν την εμην <tspan class="b">πεπληρωμενη</tspan></text><text class="r" x="1165" y="1467" textLength="47">(17,13)</text></g>
</g>
<g id="nodes-R8">
<g id="n-r8a"><ellipse class="c" cx="950" cy="1506" rx="16" ry="7"/><text class="ls" x="950" y="1511">ψ</text><text class="r" x="975.6" y="1512" textLength="380">ηκολουϑει...Σιμων Πετρος και αλλος μαϑητης (18,15)</text></g>
<g id="n-r8b"><ellipse class="c" cx="950" cy="1528" rx="16" ry="7"/><text class="ls" x="950" y="1533">ω</text><text class="r" x="971.3" y="1533" textLength="380">ο δε μαϑητης εκεινος... συνεισηλϑεν τω Ιησου (18,15)</text></g>
<g id="n-r8c"><ellipse class="c" cx="950" cy="1547" rx="16" ry="7"/><text class="ls" x="950" y="1552">θ</text><text class="r" x="973.5" y="1553" textLength="312">ο Πετρως ειστηκει προς τη ϑυρα εξω (18,16)</text></g>
<g id="n-r8d"><ellipse class="c" cx="950" cy="1568" rx="16" ry="8"/><text class="ls" x="950" y="1573">ϕ</text><text class="r" x="975.6" y="1573" textLength="204">εισηγαγεν τον Πετρον (18,16)</text></g>
<g id="n-Gammap"><ellipse class="c" cx="1110" cy="1690" rx="16" ry="18"/><text class="lab" x="1110" y="1697" style="font-weight:bold">Γ’</text><text class="it" x="1132.5" y="1697" textLength="266">Segno del sangue e dell’acqua (19,31-37)</text></g>
<g id="n-r8e"><ellipse class="c" cx="950" cy="1918" rx="16" ry="7"/><text class="ls" x="950" y="1923">ψ</text><text class="r" x="975.6" y="1923" textLength="353">εξηλϑεν ουν ο Πετρος και ο αλλος μαϑητης (20,3)</text></g>
<g id="n-r8f"><ellipse class="c" cx="950" cy="1938" rx="16" ry="7"/><text class="ls" x="950" y="1943">ω</text><text class="r" x="973" y="1943" textLength="318">(ο αλλος μαϑητης) ου μεντοι εισηλϑεν (20,5)</text></g>
<g id="n-r8g"><ellipse class="c" cx="950" cy="1958" rx="16" ry="7"/><text class="ls" x="950" y="1963">θ</text><text class="r" x="975.6" y="1963" textLength="339">Σιμων Πετρος ... εισηλϑεν εις το μνημειον (20,6)</text></g>
<g id="n-r8h"><ellipse class="c" cx="950" cy="1979" rx="16" ry="8"/><text class="ls" x="950" y="1984">ϕ</text><text class="r" x="975.6" y="1984" textLength="328">τοτε ουν εισηλϑεν και ο αλλος μαϑητης (20,8)</text></g>
</g>
</svg>
